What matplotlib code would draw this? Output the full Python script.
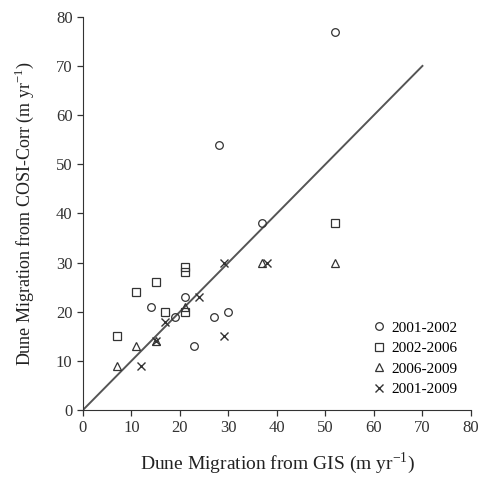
import numpy as np
import matplotlib
matplotlib.use("Agg")
import matplotlib.pyplot as plt

plt.rcParams['font.family'] = ['Liberation Serif', 'DejaVu Serif']
plt.rcParams['mathtext.fontset'] = 'custom'
plt.rcParams['mathtext.rm'] = 'Liberation Serif'

# 数据：GIS 与 COSI-Corr 的沙丘迁移速率
gis_0102 = [52, 28, 37, 14, 21, 19, 27, 30, 23]
cosi_0102 = [77, 54, 38, 21, 23, 19, 19, 20, 13]

gis_0206 = [52, 21, 21, 15, 11, 7, 17, 21]
cosi_0206 = [38, 29, 28, 26, 24, 15, 20, 20]

gis_0609 = [7, 11, 15, 21, 37, 52]
cosi_0609 = [9, 13, 14, 21, 30, 30]

gis_0109 = [12, 15, 17, 24, 29, 29, 38]
cosi_0109 = [9, 14, 18, 23, 15, 30, 30]

line_x = [0, 70]
line_y = [0, 70]

fig = plt.figure(figsize=(4.85, 4.79), dpi=100)
ax = fig.add_axes([0.171, 0.144, 0.80, 0.821])

ax.plot(line_x, line_y, color='#555555', linewidth=1.4, zorder=1)

ms = 5.5
ax.plot(gis_0102, cosi_0102, linestyle='none', marker='o', markersize=ms,
        markerfacecolor='none', markeredgecolor='#333333', markeredgewidth=0.9, label='2001-2002')
ax.plot(gis_0206, cosi_0206, linestyle='none', marker='s', markersize=ms,
        markerfacecolor='none', markeredgecolor='#333333', markeredgewidth=0.9, label='2002-2006')
ax.plot(gis_0609, cosi_0609, linestyle='none', marker='^', markersize=ms,
        markerfacecolor='none', markeredgecolor='#333333', markeredgewidth=0.9, label='2006-2009')
ax.plot(gis_0109, cosi_0109, linestyle='none', marker='x', markersize=ms,
        color='#333333', markeredgewidth=1.0, label='2001-2009')

ax.set_xlim(0, 80)
ax.set_ylim(0, 80)
ax.set_xticks(np.arange(0, 81, 10))
ax.set_yticks(np.arange(0, 81, 10))
ax.spines['top'].set_visible(False)
ax.spines['right'].set_visible(False)
ax.spines['left'].set_color('#333333')
ax.spines['bottom'].set_color('#333333')
ax.tick_params(direction='out', length=4, width=0.9, labelsize=12, colors='#333333')

ax.set_xlabel(r'Dune Migration from GIS (m yr$^{\mathregular{-1}}$)', fontsize=14, color='#222222', labelpad=10)
ax.set_ylabel(r'Dune Migration from COSI-Corr (m yr$^{\mathregular{-1}}$)', fontsize=13, color='#222222', labelpad=14)

ax.legend(loc='lower right', bbox_to_anchor=(1.0, 0.0), frameon=False, fontsize=11,
          handletextpad=0.3, labelspacing=0.45, handlelength=1.0)

fig.savefig('out.png', dpi=100)
